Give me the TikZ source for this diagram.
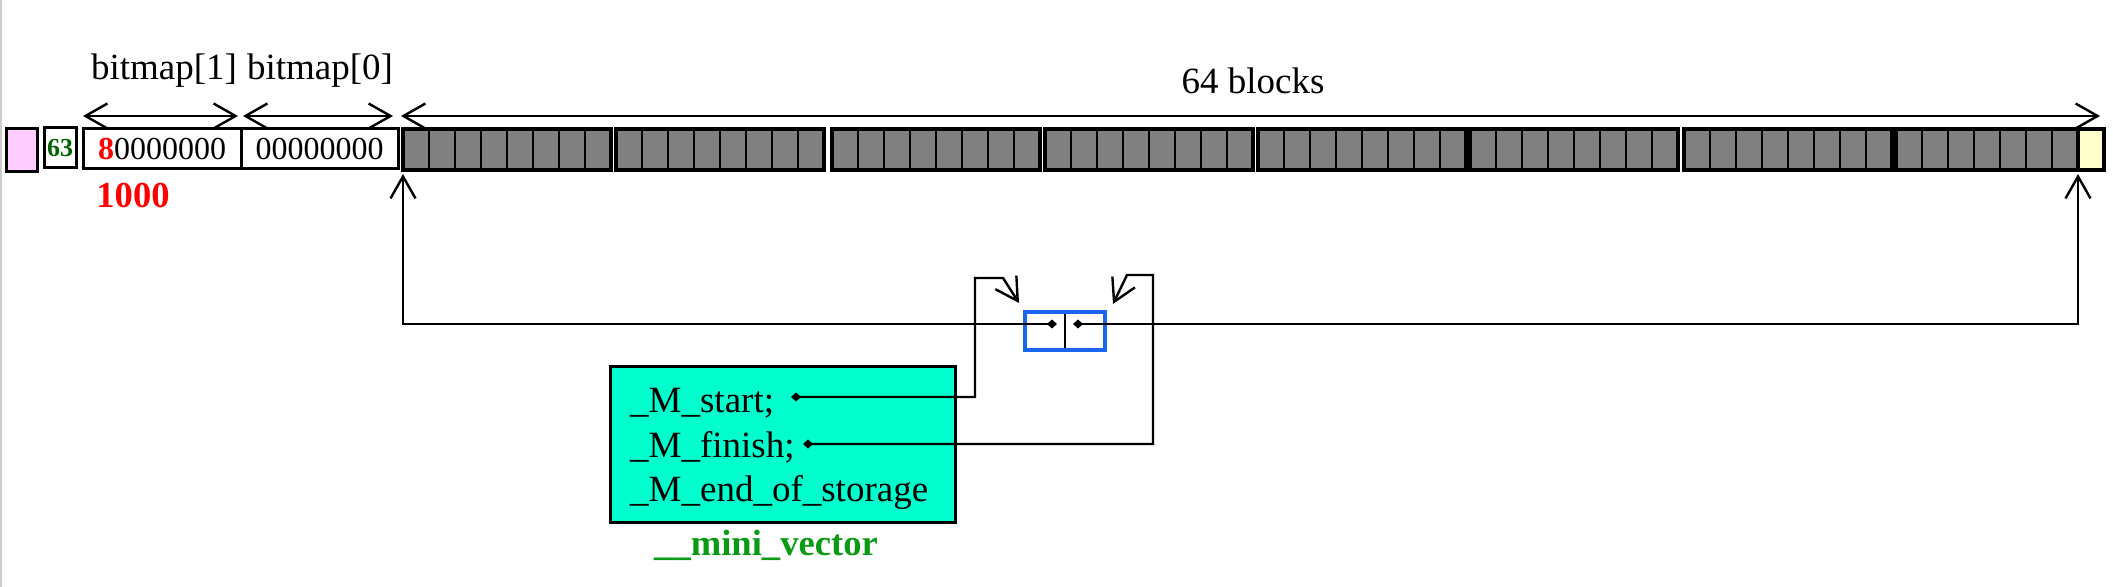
\documentclass[tikz,border=0pt]{standalone}
\usepackage{fontspec}
\setmainfont{Liberation Serif}
\usepackage{xcolor}
\definecolor{FREEcolor}{HTML}{FFCCFF}
\definecolor{LASTcolor}{HTML}{FFFFCC}
\definecolor{BLKcolor}{HTML}{808080}
\definecolor{VECcolor}{HTML}{00FFCC}
\definecolor{PTRcolor}{HTML}{1A66EE}
\definecolor{IDXcolor}{HTML}{006600}
\definecolor{NAMEcolor}{HTML}{0A9A14}
\usepackage{tikz}
\usetikzlibrary{%
    calc,
    math,
    arrows.meta % 箭头
}
\newcommand{\lblfont}{\fontsize{18.5}{22}\selectfont}
\newcommand{\digfont}{\fontsize{16}{19}\selectfont}
\newcommand{\idxfont}{\fontsize{13}{15}\selectfont\bfseries}
\newcommand{\bitfont}{\fontsize{18.3}{22}\selectfont\bfseries}
\tikzset{
    box/.style={draw, line width=1.5pt, inner sep=0pt, outer sep=0pt},
    txt/.style={inner sep=0pt, font=\lblfont},
    cell/.style={draw, fill=BLKcolor, line width=1.1pt},
    group/.style={draw, line width=1.6pt},
    dbarb/.style={line width=1.2pt, {Straight Barb[length=11pt, width=12.5pt]}-{Straight Barb[length=11pt, width=12.5pt]}},
    ptr/.style={line width=1.2pt, {Diamond[length=5pt, width=4.5pt]}-{Straight Barb[length=11pt, width=12.5pt]}}
}

\begin{document}
\begin{tikzpicture}[x=0.5pt, y=-0.5pt, line width=1.2pt]
    \useasboundingbox (0, 0) rectangle (2113, 587);
    \tikzmath{%
        \wcell=26; % 每个block宽度
        \hcell=41;
        \ytop=129;
        \xlast=1896+7*\wcell; % 最后一个block
    };

    % 左边框
    \draw [black!20, line width=1pt] (1, 0) -- (1, 587);

    % 头部
    \node (free) [box, fill=FREEcolor, minimum width=15.5pt, minimum height=21.5pt] at (21.5, 150.5) {};
    \node (idx) [box, minimum width=16pt, minimum height=20pt, text=IDXcolor, font=\idxfont] at (60, 148) {63};
    \node (bitmap1) [box, minimum width=79pt, minimum height=20pt, font=\digfont] at (162, 149) {\textcolor{red}{\textbf{8}}0000000};
    \node (bitmap0) [box, minimum width=78.5pt, minimum height=20pt, font=\digfont] at (319.5, 149) {00000000};
    \node (bits) [inner sep=0pt, text=red, font=\bitfont] at (133, 196) {1000};

    % blocks
    \foreach \gx in {403, 616, 832, 1045, 1258, 1470, 1684, 1896} {%
            \foreach \c in {0, ..., 7} {%
                    \draw [cell] (\gx+\c*\wcell, \ytop) rectangle ++(\wcell, \hcell);
                }
            \draw [group] (\gx, \ytop) rectangle ++(8*\wcell, \hcell);
        }
    \draw [group, fill=LASTcolor] (\xlast, \ytop) rectangle ++(\wcell, \hcell);
    \coordinate (blkL) at (403, \ytop);
    \coordinate (blkR) at (\xlast+\wcell, \ytop);
    \coordinate (blkE) at (\xlast, \ytop+\hcell);

    % 顶部node
    \node (lbl1) [txt, anchor=base] at (164, 80) {bitmap[1]};
    \node (lbl0) [txt, anchor=base] at (320, 80) {bitmap[0]};
    \node (lblblk) [txt, anchor=base] at (1253, 94) {64 blocks};
    \draw [dbarb] ([yshift=6.5pt] bitmap1.north west) -- ([yshift=6.5pt, xshift=-1.5pt] bitmap1.north east);
    \draw [dbarb] ([yshift=6.5pt, xshift=1pt] bitmap0.north west) -- ([yshift=6.5pt, xshift=-2.5pt] bitmap0.north east);
    \draw [dbarb] ($ (blkL) + (-2, -13) $) -- ($ (blkR) + (-4, -13) $);

    % 指针
    \node (ptr) [box, draw=PTRcolor, line width=2pt, minimum width=40pt, minimum height=19pt] at (1065, 331) {};
    \draw ([yshift=-1pt] ptr.north) -- ([yshift=1pt] ptr.south);
    \draw [ptr] ($ (ptr.center) + (-8, -7) $) -| ($ (blkL) + (0, \hcell+4) $);
    \draw [ptr] ($ (ptr.center) + (8, -7) $) -| ($ (blkE) + (0, 4) $);

    % mini vector
    \node (vec) [box, fill=VECcolor, minimum width=172.5pt, minimum height=77.5pt] at (782.5, 444.5) {};
    \node (mstart) [txt, anchor=base west] at (629, 412) {\_M\_start;};
    \node (mfinish) [txt, anchor=base west] at (629, 457) {\_M\_finish;};
    \node (mend) [txt, anchor=base west] at (629, 501) {\_M\_end\_of\_storage};
    \node (vecname) [inner sep=0pt, anchor=base, text=NAMEcolor, font=\bitfont] at (766, 555) {\_\_mini\_vector};
    \coordinate (sdot) at (791, 397);
    \coordinate (fdot) at (803, 444);
    \draw [ptr] (sdot) -| (975, 278) -- (1003, 278) -- (1019, 303);
    \draw [ptr] (fdot) -| (1153, 275) -- (1127, 275) -- (1113, 304);
\end{tikzpicture}
\end{document}
